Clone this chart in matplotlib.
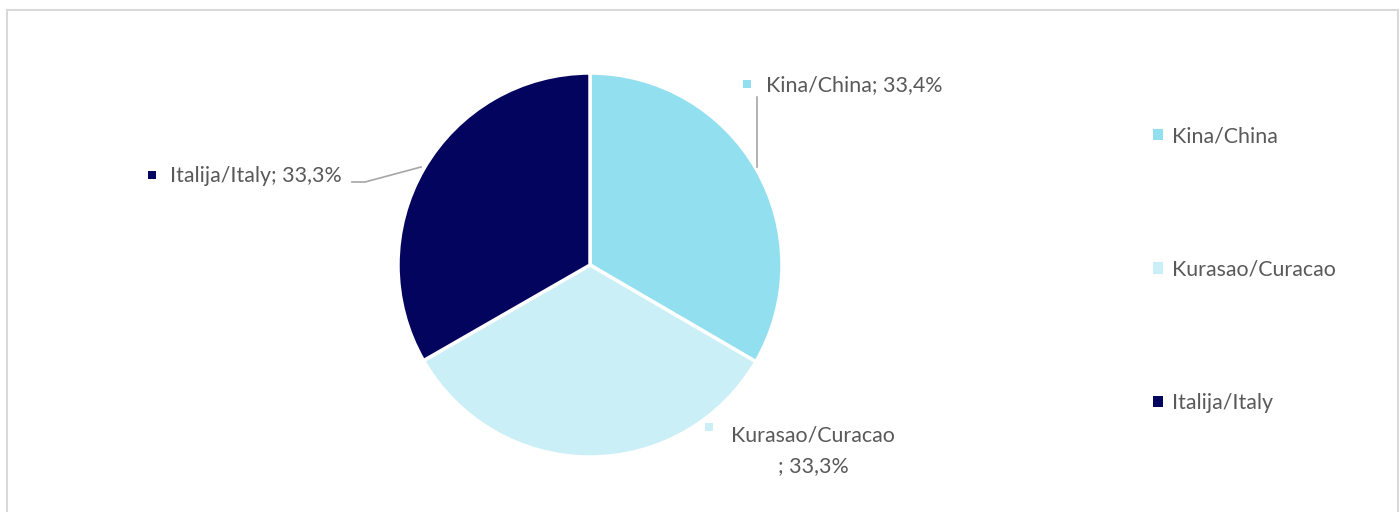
import numpy as np
import matplotlib.pyplot as plt

# data
countries = ['Kina/China', 'Kurasao/Curacao', 'Italija/Italy']
shares = [33.4, 33.3, 33.3]
colors = ['#92E0EF', '#CAEFF7', '#03045E']

plt.rcParams['font.family'] = ['Lato', 'DejaVu Sans']
text_color = '#595959'
line_color = '#A6A6A6'

W, H = 1400, 512
fig = plt.figure(figsize=(W / 100, H / 100), dpi=100)
ax = fig.add_axes([0, 0, 1, 1])

# pie in pixel-like data coords (y measured from bottom)
cx, cy, r = 590, H - 265, 192
wedges, _ = ax.pie(shares, colors=colors, startangle=90, counterclock=False,
                   center=(cx, cy), radius=r, frame=True,
                   wedgeprops=dict(edgecolor='white', linewidth=2.5))

ax.set_xlim(0, W)
ax.set_ylim(0, H)
ax.set_aspect('equal')
ax.axis('off')

# outer chart border
border = plt.Rectangle((7, -5), 1391, H - 10 + 5, fill=False,
                       edgecolor='#D9D9D9', linewidth=1.5)
ax.add_patch(border)

fs = 15.4

def pct(v):
    return f'{v:.1f}'.replace('.', ',') + '%'

# data labels
# Kina
ax.scatter([747], [H - 84], marker='s', s=40, color=colors[0], linewidths=0)
ax.text(766, H - 85, f'{countries[0]}; {pct(shares[0])}', fontsize=fs,
        color=text_color, va='center', ha='left')
ax.plot([757, 757], [H - 97, H - 167], color=line_color, lw=1.2)

# Kurasao
ax.scatter([709], [H - 427], marker='s', s=40, color=colors[1], linewidths=0)
ax.text(813, H - 436, countries[1], fontsize=fs, color=text_color,
        va='center', ha='center')
ax.text(813, H - 466, f'; {pct(shares[1])}', fontsize=fs, color=text_color,
        va='center', ha='center')

# Italy
ax.scatter([152], [H - 175], marker='s', s=40, color=colors[2], linewidths=0)
ax.text(170, H - 176, f'{countries[2]}; {pct(shares[2])}', fontsize=fs,
        color=text_color, va='center', ha='left')
ax.plot([352, 365, 421], [H - 182, H - 182, H - 167], color=line_color, lw=1.2)

# legend
leg = ax.legend(wedges, countries, loc='upper left',
                bbox_to_anchor=(1134 / W, 1 - 107 / H), frameon=False,
                fontsize=fs, labelcolor=text_color, handlelength=0.45,
                handleheight=0.45, handletextpad=0.45, labelspacing=5.3)
for h in leg.legend_handles:
    h.set_edgecolor('none')

fig.savefig('out.png', dpi=100)
